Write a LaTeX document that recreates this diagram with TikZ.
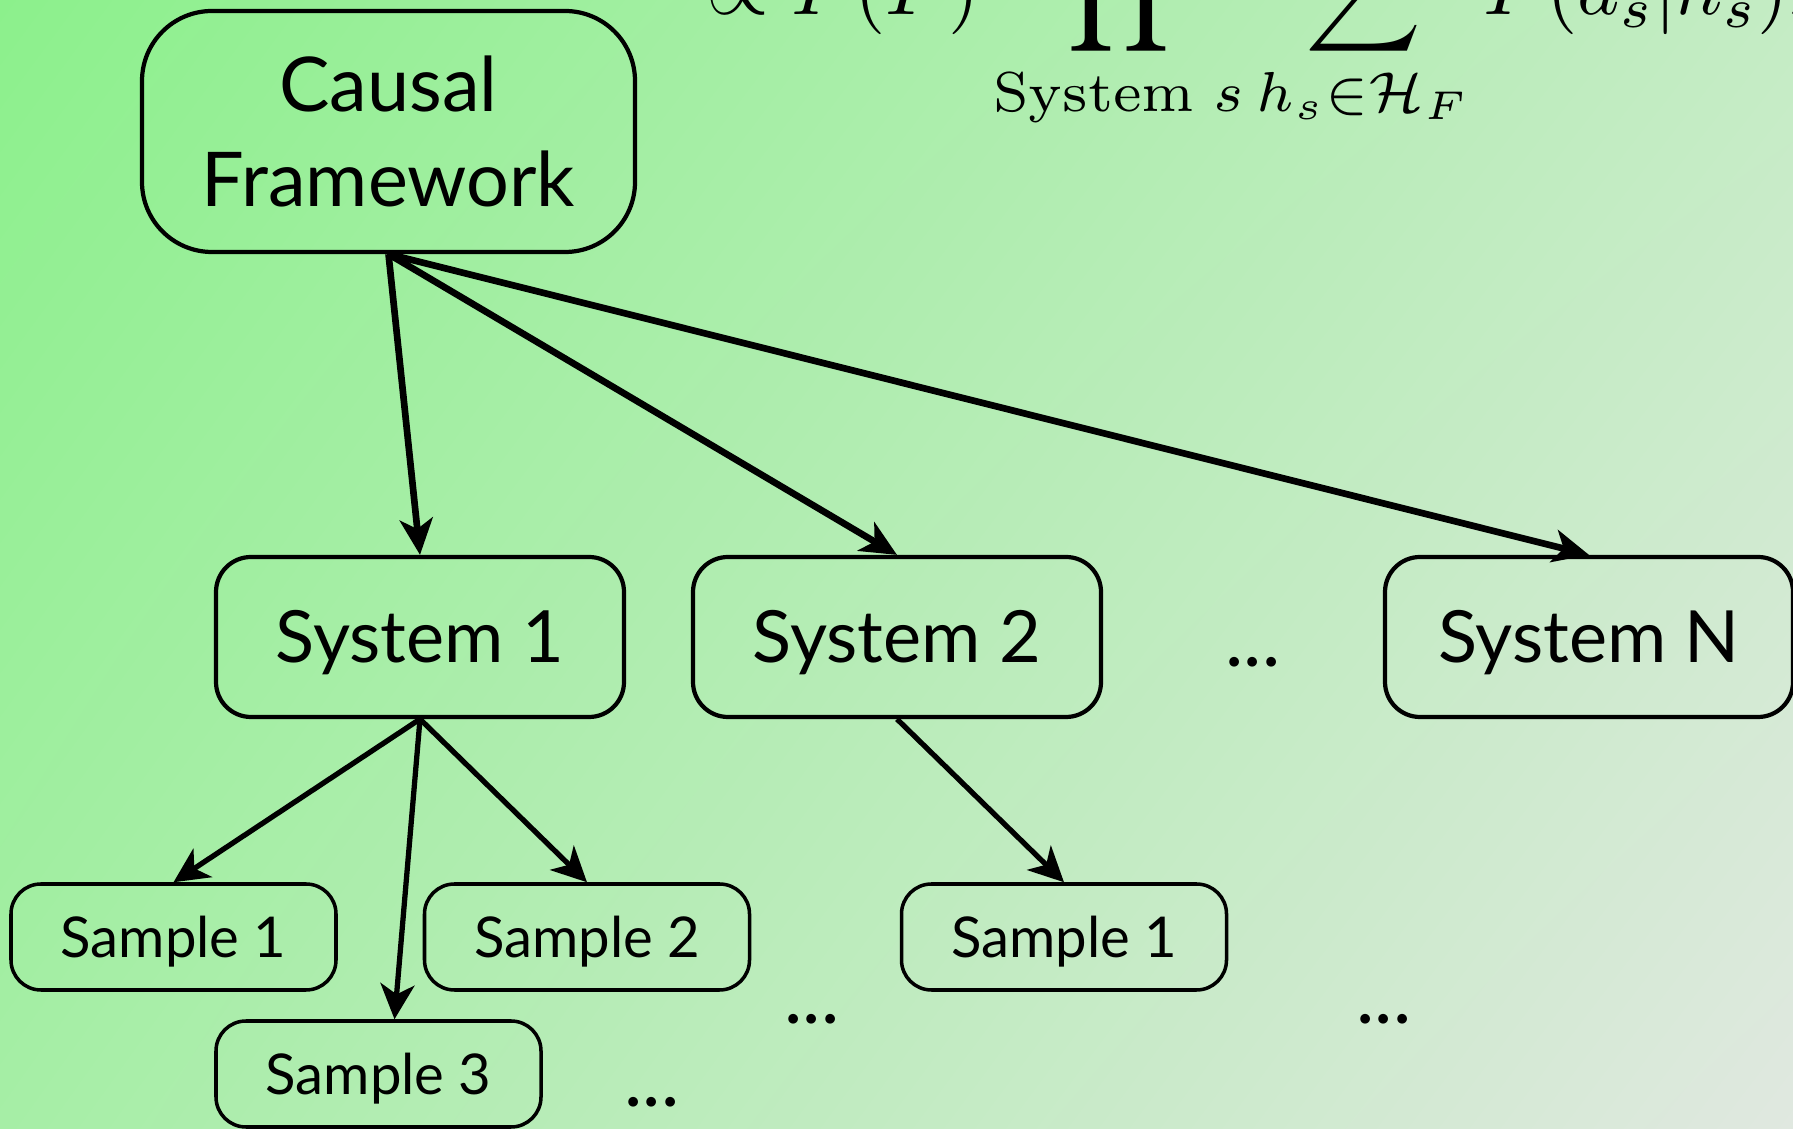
\documentclass[tikz,border=0pt]{standalone}
\usepackage[no-math]{fontspec}
\setmainfont{Lato}
\usetikzlibrary{arrows.meta, shadings}

\definecolor{bgtl}{RGB}{140,240,140}
\definecolor{bgtr}{RGB}{196,236,196}
\definecolor{bgbl}{RGB}{166,238,166}
\definecolor{bgbr}{RGB}{224,232,224}

\begin{document}
\begin{tikzpicture}[
    frame/.style = {draw, line width = 1.2pt, rounded corners = 0.7cm, align = center,
      minimum width = 4.93cm, minimum height = 2.41cm, font = \fontsize{21.5}{27}\selectfont},
    system/.style = {draw, line width = 1.2pt, rounded corners = 0.35cm, text height = 14.8pt, text depth = 0pt,
      minimum width = 4.08cm, minimum height = 1.6cm, font = \fontsize{20.5}{24}\selectfont},
    sample/.style = {draw, line width = 1pt, rounded corners = 0.3cm, text height = 11.5pt, text depth = 0pt,
      minimum width = 3.25cm, minimum height = 1.06cm, font = \fontsize{16}{19}\selectfont},
    gap/.style = {inner sep = 0pt, font = \fontsize{22}{26}\selectfont},
    link/.style = {line width = 1.9pt, -{Stealth[length = 0.36cm, width = 0.33cm, inset = 0.1cm]}},
    sublink/.style = {line width = 1.5pt, -{Stealth[length = 0.35cm, width = 0.34cm, inset = 0.1cm]}}
  ]
    \useasboundingbox (0, 0) rectangle (17.93, 11.29);
    \clip (0, 0) rectangle (17.93, 11.29);
    \shade [upper left = bgtl, upper right = bgtr, lower left = bgbl, lower right = bgbr]
      (0, 0) rectangle (17.93, 11.29);

    % likelihood, cut off at the top
    \node (prob) [anchor = base west, inner sep = 0pt, scale = 2.29] at (7.05, 11.14)
      {$\displaystyle \propto P(F) \prod_{\mathrm{System}\; s} \sum_{h_s \in \mathcal{H}_F} P(a_s|h_s)P(h_s|F)$};

    \node (cf) [frame] at (3.885, 9.975) {Causal\\Framework};

    \node (sys1) [system] at (4.20, 4.92) {System 1};
    \node (sys2) [system] at (8.97, 4.92) {System 2};
    \node (sysn) [system] at (15.89, 4.92) {System N};
    \node (gapsys) [gap] at (12.53, 4.67) {...};

    \node (smp11) [sample] at (1.735, 1.92) {Sample 1};
    \node (smp12) [sample] at (5.87, 1.92) {Sample 2};
    \node (smp13) [sample] at (3.785, 0.55) {Sample 3};
    \node (smp21) [sample] at (10.64, 1.92) {Sample 1};
    \node (gap1a) [gap] at (8.12, 1.10) {...};
    \node (gap1b) [gap] at (6.52, 0.27) {...};
    \node (gap2) [gap] at (13.84, 1.10) {...};

    \draw [link] (cf.south) -- (sys1.north);
    \draw [link] (cf.south) -- (sys2.north);
    \draw [link] (cf.south) -- (sysn.north);

    \draw [sublink] (sys1.south) -- (smp11.north);
    \draw [sublink] (sys1.south) -- ([xshift = 0.16cm]smp13.north);
    \draw [sublink] (sys1.south) -- (smp12.north);
    \draw [sublink] (sys2.south) -- (smp21.north);
\end{tikzpicture}
\end{document}
